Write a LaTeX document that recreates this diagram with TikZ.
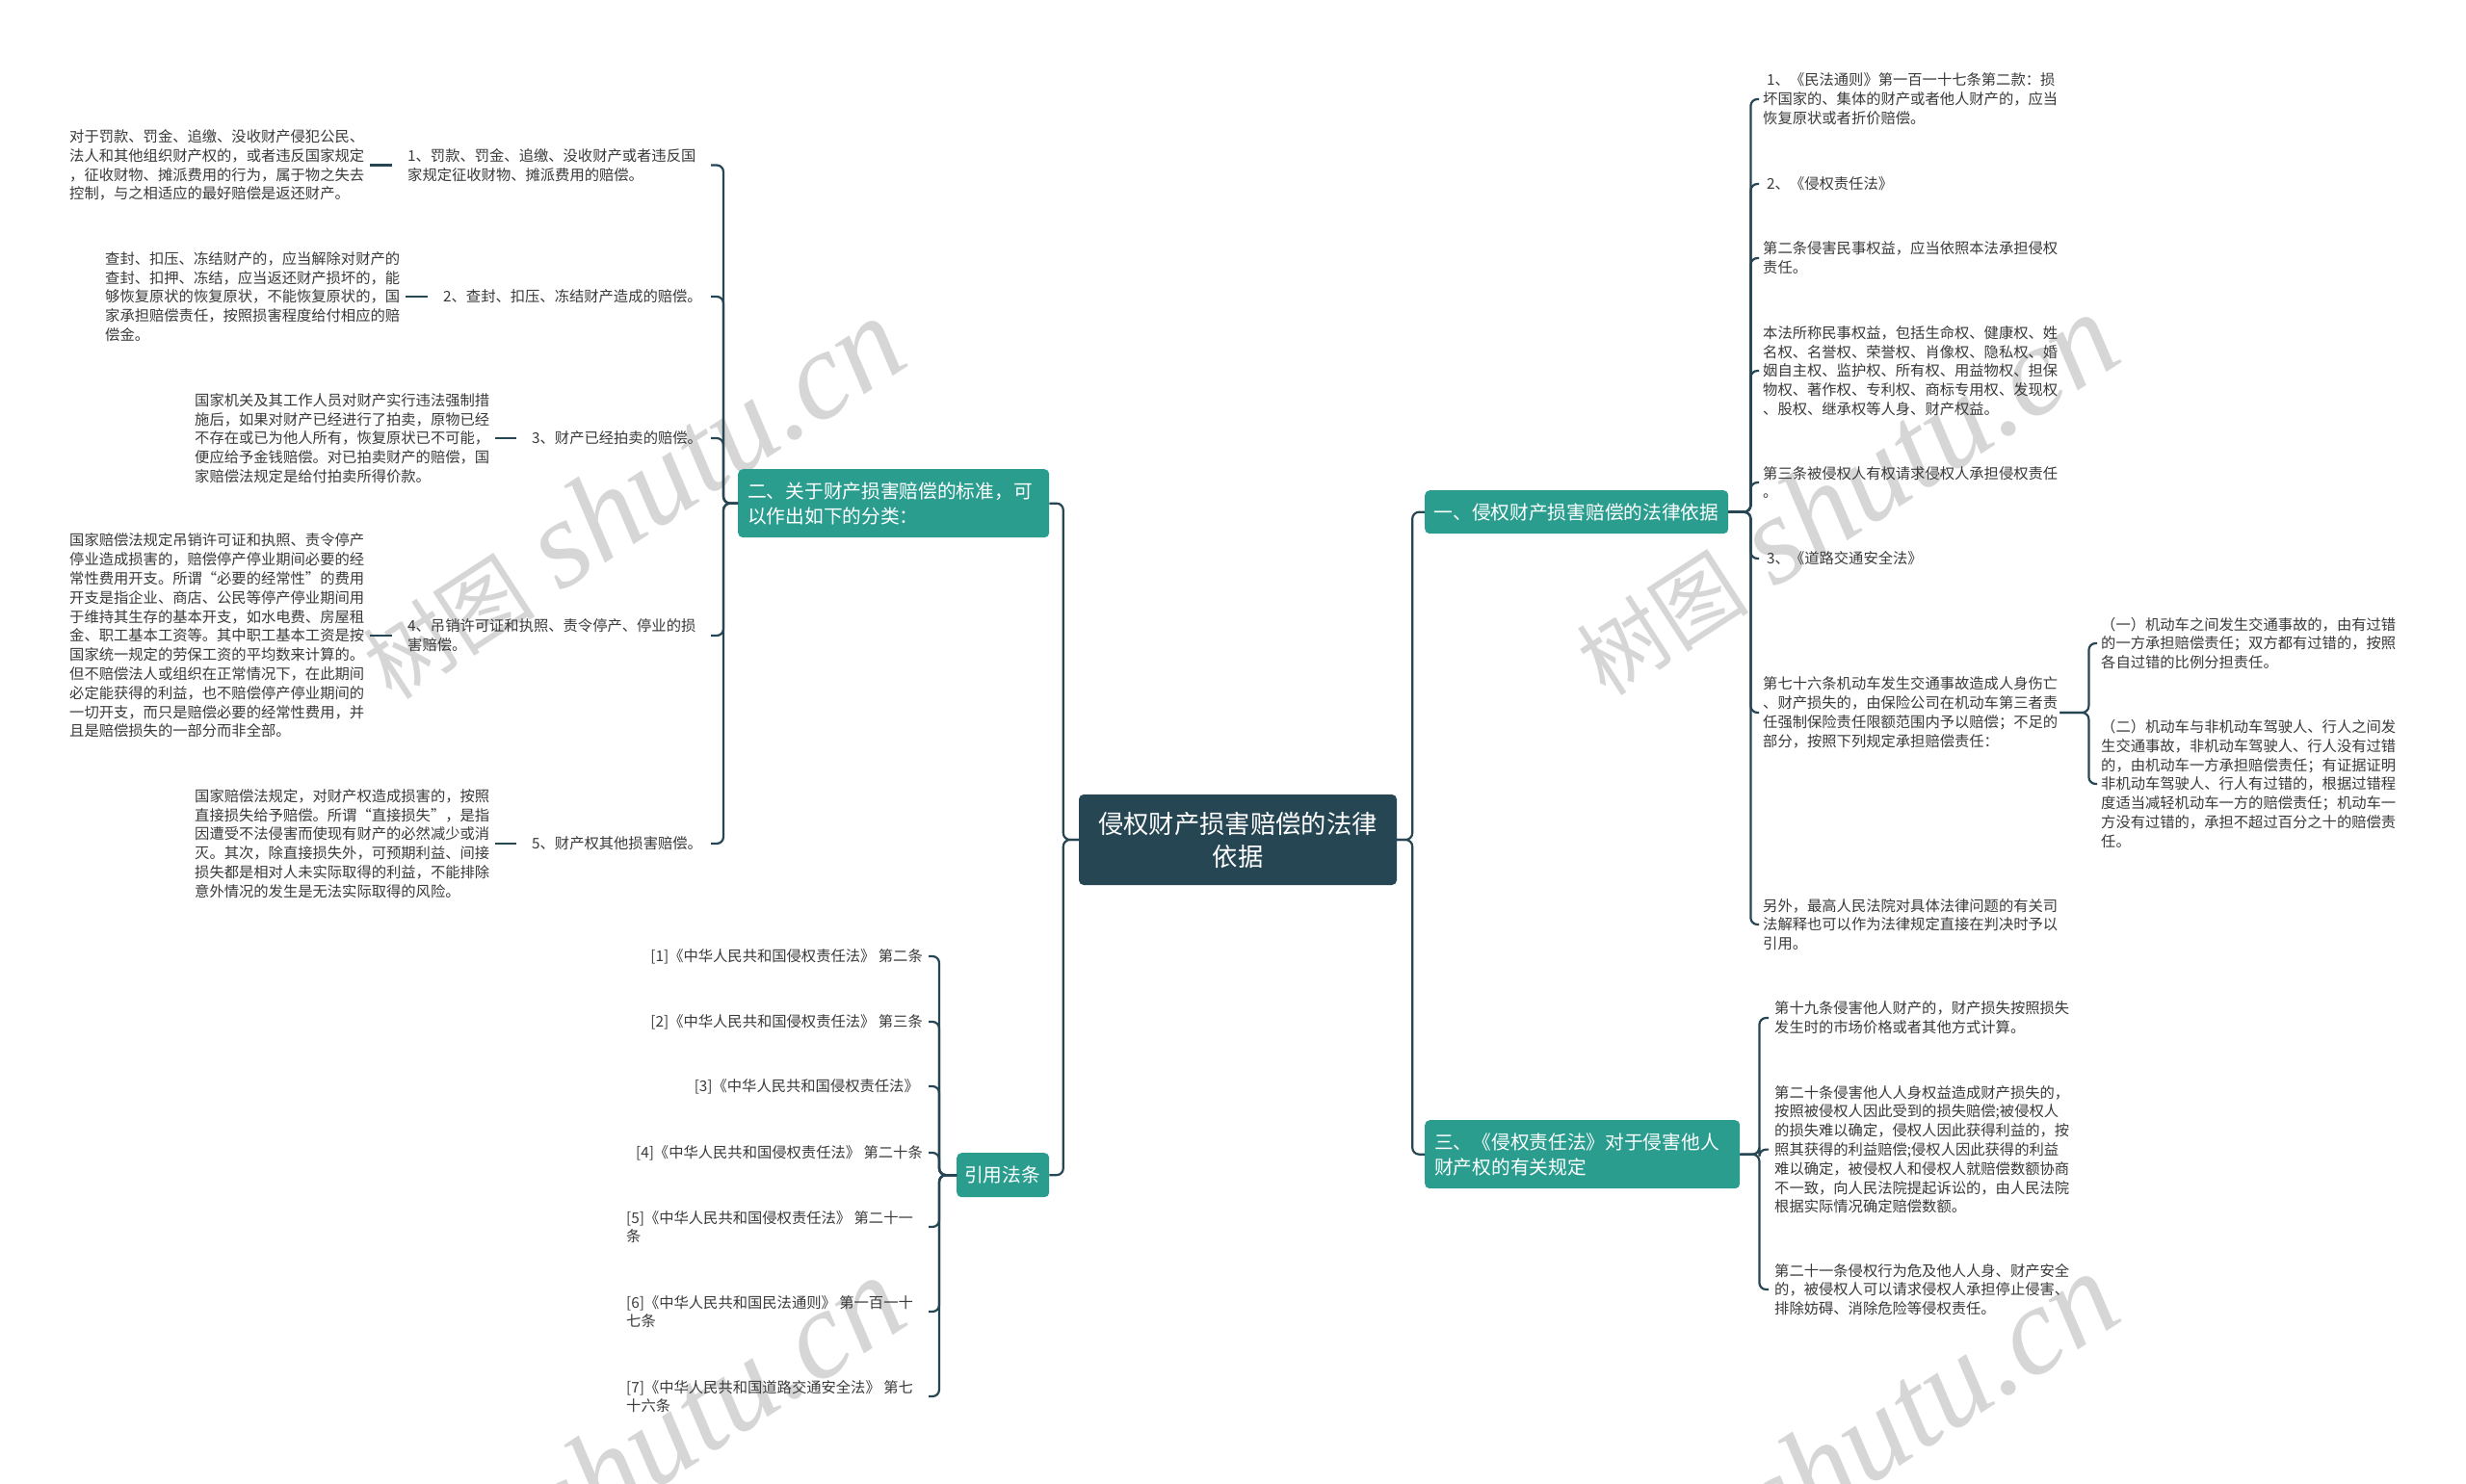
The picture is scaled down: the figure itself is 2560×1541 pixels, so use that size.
\documentclass[tikz,border=0pt]{standalone}
\usepackage{fontspec}
\setmainfont{Noto Sans CJK SC}
\newfontfamily\wmlatin{Liberation Serif}
\usetikzlibrary{calc}
\definecolor{teal1}{HTML}{2A9D8F}
\definecolor{dark1}{HTML}{264653}
\definecolor{txt}{HTML}{3A3A3A}
\definecolor{wm}{HTML}{D6D6D6}
\newcommand{\wmtext}{{\fontsize{90}{90}\selectfont 树图}\hspace{28pt}{\wmlatin\itshape\fontsize{130}{130}\selectfont shutu.cn}}
\tikzset{
  leaf/.style={font=\fontsize{15.3}{19.8}\selectfont, text=txt, align=left, inner sep=2pt},
  branch/.style={fill=teal1, text=white, rounded corners=5pt, font=\fontsize{19.7}{26}\selectfont, align=left, inner xsep=10pt, inner ysep=0pt, anchor=north west},
  root/.style={fill=dark1, text=white, rounded corners=5pt, font=\fontsize{26.3}{34}\selectfont, align=center, inner sep=0pt, minimum width=330pt, minimum height=94pt},
  conn/.style={draw=dark1, line width=2.2pt, rounded corners=7pt},
  tick/.style={draw=dark1, line width=2.2pt},
  wmark/.style={text=wm, rotate=33, inner sep=0pt}
}
\begin{document}
\begin{tikzpicture}[x=1pt,y=-1pt]
\fill[white] (0,0) rectangle (2560,1541);
\useasboundingbox (0,0) rectangle (2560,1541);

% watermarks
\begin{scope}
\clip (0,0) rectangle (2560,1541);
\node[wmark] (wmA) at (655,518) {\wmtext};
\node[wmark] (wmB) at (1915,514) {\wmtext};
\node[wmark] (wmC) at (655,1514) {\wmtext};
\node[wmark] (wmD) at (1915,1510) {\wmtext};
\end{scope}

% root and branches
\node[root] (C) at (1285,872) {侵权财产损害赔偿的法律\\依据};
\node[branch, minimum height=71pt, text width=303pt] (B2) at (766,487) {二、关于财产损害赔偿的标准，可\\以作出如下的分类：};
\node[branch, minimum height=46pt, text width=80pt, inner xsep=8pt] (BR) at (993,1197) {引用法条};
\node[branch, minimum height=45pt, text width=296pt, inner xsep=9.5pt] (B1) at (1479,509) {一、侵权财产损害赔偿的法律依据};
\node[branch, minimum height=71pt, text width=307pt] (B3) at (1479,1163) {三、《侵权责任法》对于侵害他人\\财产权的有关规定};

% left labels
\node[leaf, anchor=west] (L1) at (421,171.5) {1、罚款、罚金、追缴、没收财产或者违反国\\家规定征收财物、摊派费用的赔偿。};
\node[leaf, anchor=west] (L2) at (458,308) {2、查封、扣压、冻结财产造成的赔偿。};
\node[leaf, anchor=west] (L3) at (550,455) {3、财产已经拍卖的赔偿。};
\node[leaf, anchor=west] (L4) at (421,660) {4、吊销许可证和执照、责令停产、停业的损\\害赔偿。};
\node[leaf, anchor=west] (L5) at (550,876) {5、财产权其他损害赔偿。};

% left descriptions
\node[leaf, anchor=west] (D1) at (70,171.5) {对于罚款、罚金、追缴、没收财产侵犯公民、\\法人和其他组织财产权的，或者违反国家规定\\，征收财物、摊派费用的行为，属于物之失去\\控制，与之相适应的最好赔偿是返还财产。};
\node[leaf, anchor=west] (D2) at (107,308) {查封、扣压、冻结财产的，应当解除对财产的\\查封、扣押、冻结，应当返还财产损坏的，能\\够恢复原状的恢复原状，不能恢复原状的，国\\家承担赔偿责任，按照损害程度给付相应的赔\\偿金。};
\node[leaf, anchor=west] (D3) at (200,455) {国家机关及其工作人员对财产实行违法强制措\\施后，如果对财产已经进行了拍卖，原物已经\\不存在或已为他人所有，恢复原状已不可能，\\便应给予金钱赔偿。对已拍卖财产的赔偿，国\\家赔偿法规定是给付拍卖所得价款。};
\node[leaf, anchor=west] (D4) at (70,660) {国家赔偿法规定吊销许可证和执照、责令停产\\停业造成损害的，赔偿停产停业期间必要的经\\常性费用开支。所谓“必要的经常性”的费用\\开支是指企业、商店、公民等停产停业期间用\\于维持其生存的基本开支，如水电费、房屋租\\金、职工基本工资等。其中职工基本工资是按\\国家统一规定的劳保工资的平均数来计算的。\\但不赔偿法人或组织在正常情况下，在此期间\\必定能获得的利益，也不赔偿停产停业期间的\\一切开支，而只是赔偿必要的经常性费用，并\\且是赔偿损失的一部分而非全部。};
\node[leaf, anchor=west] (D5) at (200,876) {国家赔偿法规定，对财产权造成损害的，按照\\直接损失给予赔偿。所谓“直接损失”，是指\\因遭受不法侵害而使现有财产的必然减少或消\\灭。其次，除直接损失外，可预期利益、间接\\损失都是相对人未实际取得的利益，不能排除\\意外情况的发生是无法实际取得的风险。};

% references
\node[leaf, anchor=east] (R1) at (960,993) {[1]《中华人民共和国侵权责任法》 第二条};
\node[leaf, anchor=east] (R2) at (960,1061) {[2]《中华人民共和国侵权责任法》 第三条};
\node[leaf, anchor=east] (R3) at (956,1128) {[3]《中华人民共和国侵权责任法》};
\node[leaf, anchor=east] (R4) at (960,1197) {[4]《中华人民共和国侵权责任法》 第二十条};
\node[leaf, anchor=west] (R5) at (648,1274) {[5]《中华人民共和国侵权责任法》 第二十一\\条};
\node[leaf, anchor=west] (R6) at (648,1362) {[6]《中华人民共和国民法通则》 第一百一十\\七条};
\node[leaf, anchor=west] (R7) at (648,1450) {[7]《中华人民共和国道路交通安全法》 第七\\十六条};

% right, branch one
\node[leaf, anchor=west] (r1) at (1828,103) {\hspace{4pt}1、《民法通则》第一百一十七条第二款：损\\坏国家的、集体的财产或者他人财产的，应当\\恢复原状或者折价赔偿。};
\node[leaf, anchor=west] (r2) at (1828,191) {\hspace{4pt}2、《侵权责任法》};
\node[leaf, anchor=west] (r3) at (1828,268) {第二条侵害民事权益，应当依照本法承担侵权\\责任。};
\node[leaf, anchor=west] (r4) at (1828,385) {本法所称民事权益，包括生命权、健康权、姓\\名权、名誉权、荣誉权、肖像权、隐私权、婚\\姻自主权、监护权、所有权、用益物权、担保\\物权、著作权、专利权、商标专用权、发现权\\、股权、继承权等人身、财产权益。};
\node[leaf, anchor=west] (r5) at (1828,501) {第三条被侵权人有权请求侵权人承担侵权责任\\。};
\node[leaf, anchor=west] (r6) at (1828,580) {\hspace{4pt}3、《道路交通安全法》};
\node[leaf, anchor=west] (r7) at (1828,740) {第七十六条机动车发生交通事故造成人身伤亡\\、财产损失的，由保险公司在机动车第三者责\\任强制保险责任限额范围内予以赔偿；不足的\\部分，按照下列规定承担赔偿责任：};
\node[leaf, anchor=west] (r8) at (1828,960) {另外，最高人民法院对具体法律问题的有关司\\法解释也可以作为法律规定直接在判决时予以\\引用。};
\node[leaf, anchor=west] (r7a) at (2179,668) {（一）机动车之间发生交通事故的，由有过错\\的一方承担赔偿责任；双方都有过错的，按照\\各自过错的比例分担责任。};
\node[leaf, anchor=west] (r7b) at (2179,814) {（二）机动车与非机动车驾驶人、行人之间发\\生交通事故，非机动车驾驶人、行人没有过错\\的，由机动车一方承担赔偿责任；有证据证明\\非机动车驾驶人、行人有过错的，根据过错程\\度适当减轻机动车一方的赔偿责任；机动车一\\方没有过错的，承担不超过百分之十的赔偿责\\任。};

% right, branch three
\node[leaf, anchor=west] (s1) at (1840,1057) {第十九条侵害他人财产的，财产损失按照损失\\发生时的市场价格或者其他方式计算。};
\node[leaf, anchor=west] (s2) at (1840,1193.6) {第二十条侵害他人人身权益造成财产损失的，\\按照被侵权人因此受到的损失赔偿;被侵权人\\的损失难以确定，侵权人因此获得利益的，按\\照其获得的利益赔偿;侵权人因此获得的利益\\难以确定，被侵权人和侵权人就赔偿数额协商\\不一致，向人民法院提起诉讼的，由人民法院\\根据实际情况确定赔偿数额。};
\node[leaf, anchor=west] (s3) at (1840,1339) {第二十一条侵权行为危及他人人身、财产安全\\的，被侵权人可以请求侵权人承担停止侵害、\\排除妨碍、消除危险等侵权责任。};

% tick end coordinates
\coordinate (tl) at (738,0);
\coordinate (tr) at (964,0);
\coordinate (trr) at (1826,0);
\coordinate (t7) at (2177,0);
\coordinate (ts) at (1836,0);

% main connectors
\draw[conn] (C.west) -- ++(-16,0) |- (B2.east);
\draw[conn] (C.west) -- ++(-16,0) |- (BR.east);
\draw[conn] (C.east) -- ++(16,0) |- (B1.west);
\draw[conn] (C.east) -- ++(16,0) |- (B3.west);

% branch two
\foreach \n in {L1,L2,L3,L4,L5}
  \draw[conn] (B2.west) -- ++(-15,0) |- (\n.east -| tl);
\foreach \d/\l in {D1/L1,D2/L2,D3/L3,D4/L4,D5/L5}
  \draw[tick] ([xshift=4pt]\d.east) -- ([xshift=-14pt]\l.west);

% references
\foreach \n in {R1,R2,R3,R4,R5,R6,R7}
  \draw[conn] (BR.west) -- ++(-18,0) |- (\n.east -| tr);

% branch one
\foreach \n in {r1,r2,r3,r4,r5,r6,r7,r8}
  \draw[conn] (B1.east) -- ++(23,0) |- (\n.west -| trr);
\foreach \n in {r7a,r7b}
  \draw[conn] (r7.east) -- ++(30,0) |- (\n.west -| t7);

% branch three
\foreach \n in {s1,s2,s3}
  \draw[conn] (B3.east) -- ++(20,0) |- (\n.west -| ts);
\end{tikzpicture}
\end{document}
